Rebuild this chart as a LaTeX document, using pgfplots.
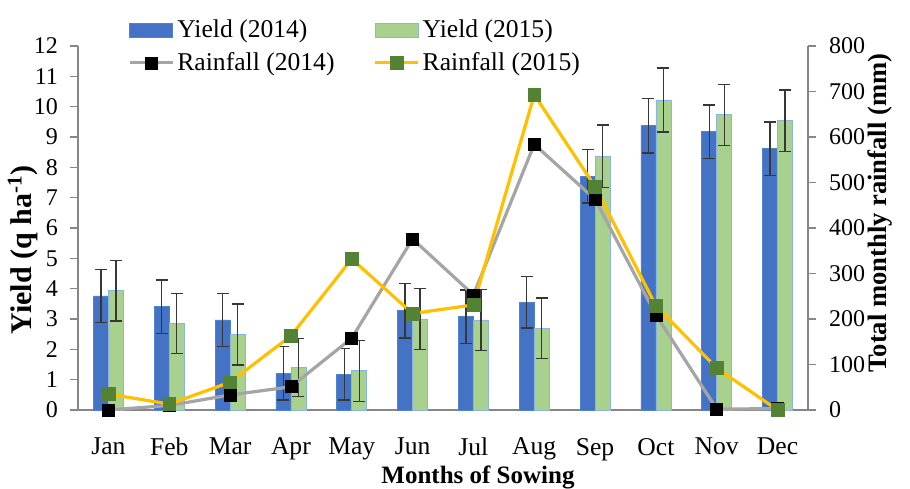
\documentclass[border=0pt]{standalone}
\usepackage{fontspec}
\setmainfont{Liberation Serif}
\usepackage{pgfplots}
\pgfplotsset{compat=1.18}
\definecolor{barblue}{RGB}{68,114,196}
\definecolor{barblueedge}{RGB}{80,130,205}
\definecolor{bargreen}{RGB}{169,209,142}
\definecolor{bargreenedge}{RGB}{140,180,225}
\definecolor{raingray}{RGB}{165,165,165}
\definecolor{rainyellow}{RGB}{255,192,0}
\definecolor{markgreen}{RGB}{84,130,53}
\definecolor{axisgray}{RGB}{134,134,134}
\definecolor{errgray}{RGB}{55,55,55}
\pgfplotsset{
  mylinelegend/.style={legend image code/.code={\draw[mark repeat=2, mark phase=2, ##1] plot coordinates {(0pt,0pt) (10.75pt,0pt) (21.5pt,0pt)};}},
  myerr/.style={error bars/.cd, y dir=both, y explicit, error mark=-,
    error bar style={draw=errgray, line width=0.7pt},
    error mark options={rotate=90, draw=errgray, line width=0.7pt, mark size=3pt}},
  common/.style={
    at={(0pt,0pt)}, anchor=south west,
    scale only axis, width=365pt, height=182pt,
    xmin=-0.5, xmax=11.5,
    axis line style={draw=axisgray, line width=0.8pt, -},
    tick style={draw=axisgray, line width=0.8pt},
    tick align=outside, major tick length=4pt,
    /pgf/number format/assume math mode=true,
    tick label style={font=\fontsize{12}{14}\selectfont},
    label style={font=\fontsize{12.5}{15}\selectfont\bfseries},
  }
}
\begin{document}
\begin{tikzpicture}
\path[use as bounding box] (-39pt,-39pt) rectangle (416pt,205pt);
\begin{axis}[common,
  ymin=0, ymax=12, ytick={0,1,...,12},
  axis y line*=left, axis x line*=bottom,
  yticklabel style={xshift=-2.5pt},
  xtick={0,1,...,11},
  xticklabels={Jan,Feb,Mar,Apr,May,Jun,Jul,Aug,Sep,Oct,Nov,Dec},
  x tick style={draw=none},
  xticklabel style={font=\fontsize{12.8}{15}\selectfont, yshift=-6.5pt},
  ybar, bar width=7.5pt,
  xlabel={Months of Sowing},
  xlabel style={at={(axis description cs:0.548,-0.186)}, anchor=center},
  ylabel={Yield (q ha\textsuperscript{-1})},
  ylabel style={at={(axis description cs:-0.0753,0.44)}, anchor=center, font=\fontsize{15}{17}\selectfont\bfseries},
]
\addplot[fill=barblue, draw=barblueedge, line width=0.4pt, bar shift=-3.75pt, myerr]
coordinates {
(0,3.76) +- (0,0.88)
(1,3.41) +- (0,0.88)
(2,2.97) +- (0,0.88)
(3,1.21) +- (0,0.88)
(4,1.18) +- (0,0.85)
(5,3.27) +- (0,0.90)
(6,3.08) +- (0,0.88)
(7,3.55) +- (0,0.85)
(8,7.71) +- (0,0.88)
(9,9.37) +- (0,0.90)
(10,9.18) +- (0,0.88)
(11,8.61) +- (0,0.88)
};
\addplot[fill=bargreen, draw=bargreenedge, line width=0.4pt, bar shift=3.75pt, myerr]
coordinates {
(0,3.93) +- (0,1.00)
(1,2.86) +- (0,0.99)
(2,2.49) +- (0,1.00)
(3,1.40) +- (0,0.95)
(4,1.29) +- (0,1.00)
(5,3.00) +- (0,1.00)
(6,2.97) +- (0,1.00)
(7,2.69) +- (0,1.00)
(8,8.37) +- (0,1.03)
(9,10.22) +- (0,1.05)
(10,9.73) +- (0,1.01)
(11,9.54) +- (0,1.01)
};
\end{axis}
\begin{axis}[common,
  ymin=0, ymax=800, ytick={0,100,...,800},
  axis y line*=right, axis x line=none,
  yticklabel style={xshift=3pt},
  ylabel={Total monthly rainfall (mm)},
  ylabel style={at={(axis description cs:1.0986,0.541)}, anchor=center, font=\fontsize{13.3}{15}\selectfont\bfseries},
  legend columns=2,
  legend cell align=left,
  legend style={draw=none, fill=none, at={(axis description cs:0.06,1.093)}, anchor=north west,
    font=\fontsize{12.8}{14}\selectfont, row sep=3pt,
    nodes={inner sep=1.5pt},
    /tikz/column 2/.style={column sep=18pt}},
]
\addlegendimage{legend image code/.code={\draw[fill=barblue, draw=barblueedge, line width=0.4pt] (0pt,-3.5pt) rectangle (21.5pt,3.5pt);}}
\addlegendentry{Yield (2014)}
\addlegendimage{legend image code/.code={\draw[fill=bargreen, draw=bargreenedge, line width=0.4pt] (0pt,-3.5pt) rectangle (21.5pt,3.5pt);}}
\addlegendentry{Yield (2015)}
\addplot[raingray, line width=1.6pt, mark=square*, mark size=3pt,
  mark options={fill=black, draw=black, line width=0.3pt}, mylinelegend]
coordinates {
(0,0) (1,10) (2,33) (3,51) (4,158) (5,376) (6,253) (7,584) (8,463) (9,209) (10,2) (11,3)
};
\addlegendentry{Rainfall (2014)}
\addplot[rainyellow, line width=1.6pt, mark=square*, mark size=3.2pt,
  mark options={fill=markgreen, draw=markgreen, line width=0.3pt}, mylinelegend]
coordinates {
(0,35) (1,13) (2,61) (3,163) (4,332) (5,212) (6,231) (7,693) (8,491) (9,229) (10,92) (11,0)
};
\addlegendentry{Rainfall (2015)}
\end{axis}
\end{tikzpicture}
\end{document}
